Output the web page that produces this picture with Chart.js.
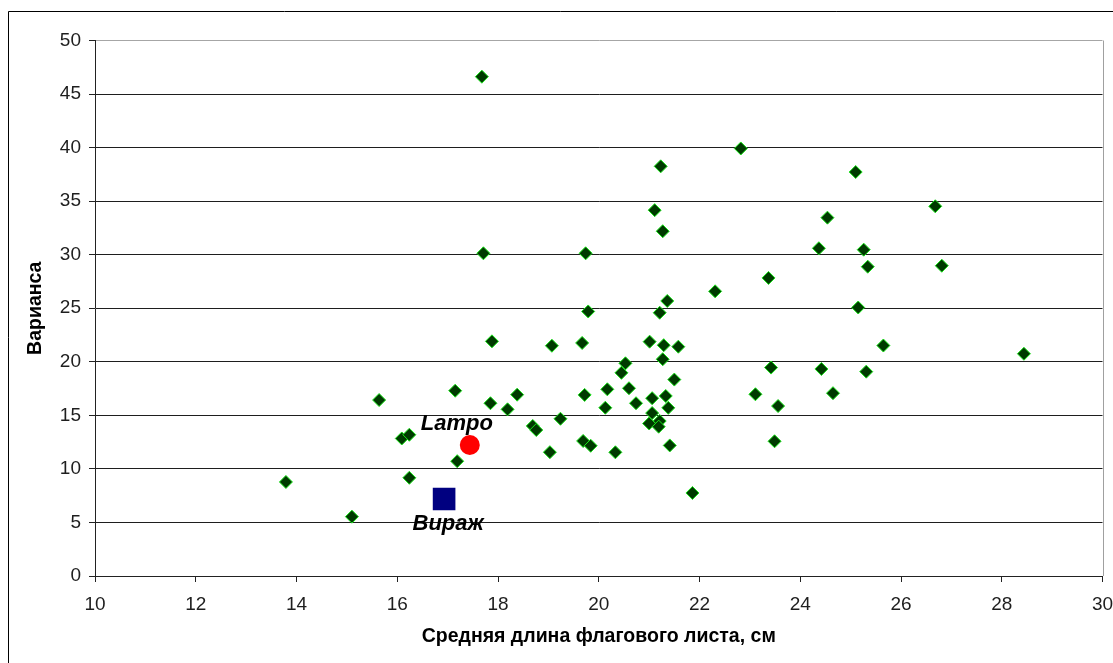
<!DOCTYPE html>
<html>
<head>
<meta charset="utf-8">
<script src="https://cdn.jsdelivr.net/npm/chart.js@4.4.1/dist/chart.umd.min.js"></script>
<style>
  html, body { margin: 0; padding: 0; background: #ffffff; }
  #wrap { width: 1113px; height: 663px; position: relative; }
</style>
</head>
<body>
<div id="wrap"><canvas id="chart" width="1113" height="663"></canvas></div>
<script>
// Mean flag-leaf length (cm) of each sample
const leafLength = [
  13.79, 15.10, 15.64, 16.09, 16.24, 16.24, 17.15, 17.19, 17.68, 17.71,
  17.88, 17.85, 18.19, 18.38, 18.69, 18.76, 19.03, 19.07, 19.24, 19.67,
  19.69, 19.72, 19.74, 19.79, 19.84, 20.13, 20.17, 20.33, 20.45, 20.53,
  20.60, 20.74, 21.01, 21.00, 21.06, 21.06, 21.11, 21.21, 21.19, 21.21,
  21.23, 21.27, 21.27, 21.29, 21.36, 21.33, 21.38, 21.41, 21.50, 21.58,
  21.86, 22.31, 22.82, 23.11, 23.37, 23.42, 23.49, 23.56, 24.37, 24.42,
  24.54, 24.65, 25.10, 25.15, 25.26, 25.31, 25.34, 25.65, 26.68, 26.81,
  28.44
];
// Variance of leaf length for the same samples
const leafVariance = [
  8.78, 5.54, 16.43, 12.84, 13.19, 9.17, 17.30, 10.72, 46.62, 30.13,
  21.91, 16.13, 15.56, 16.93, 14.01, 13.63, 11.56, 21.50, 14.68, 21.76,
  12.61, 16.91, 30.13, 24.70, 12.16, 15.71, 17.43, 11.55, 18.97, 19.86,
  17.53, 16.13, 21.88, 14.24, 16.60, 15.21, 34.16, 14.47, 13.94, 24.58,
  38.25, 32.19, 20.24, 21.55, 25.68, 16.81, 15.70, 12.19, 18.34, 21.41,
  7.75, 26.58, 39.92, 16.97, 27.83, 19.46, 12.58, 15.87, 30.60, 19.33,
  33.46, 17.07, 37.72, 25.07, 30.47, 19.08, 28.88, 21.52, 34.52, 28.97,
  20.75
];
// Named varieties
const lampoName = 'Lampo';
const lampoLength = 17.44;
const lampoVariance = 12.23;
const virazhName = 'Вираж';
const virazhLength = 16.93;
const virazhVariance = 7.19;

// Axis ranges and titles
const xMin = 10, xMax = 30, xStep = 2;
const yMin = 0, yMax = 50, yStep = 5;
const xTitle = 'Средняя длина флагового листа, см';
const yTitle = 'Варианса';

const FONT = '"Liberation Sans", Arial, sans-serif';

const samplePoints = leafLength.map((x, i) => ({ x, y: leafVariance[i] }));

// Outer frame and the light right edge of the plot
const framePlugin = {
  id: 'frame',
  beforeDraw(chart) {
    const ctx = chart.ctx;
    ctx.save();
    ctx.fillStyle = '#ffffff';
    ctx.fillRect(0, 0, chart.width, chart.height);
    ctx.strokeStyle = '#000000';
    ctx.lineWidth = 1;
    ctx.beginPath();
    ctx.moveTo(8.5, chart.height);
    ctx.lineTo(8.5, 11.5);
    ctx.lineTo(chart.width, 11.5);
    ctx.stroke();
    ctx.restore();
  },
  afterDraw(chart) {
    const { ctx, chartArea } = chart;
    ctx.save();
    ctx.strokeStyle = '#a0a0a0';
    ctx.lineWidth = 1;
    const rx = Math.round(chartArea.right) + 0.5;
    ctx.beginPath();
    ctx.moveTo(rx, chartArea.top);
    ctx.lineTo(rx, chartArea.bottom);
    ctx.stroke();
    ctx.restore();
  }
};

// Variety names written next to their markers
const nameLabelPlugin = {
  id: 'nameLabels',
  afterDatasetsDraw(chart) {
    const ctx = chart.ctx;
    const xs = chart.scales.x, ys = chart.scales.y;
    ctx.save();
    ctx.font = 'italic bold 22px ' + FONT;
    ctx.fillStyle = '#000000';
    ctx.textAlign = 'center';
    ctx.textBaseline = 'middle';
    ctx.fillText(lampoName, xs.getPixelForValue(lampoLength) - 13, ys.getPixelForValue(lampoVariance) - 21);
    ctx.fillText(virazhName, xs.getPixelForValue(virazhLength) + 4, ys.getPixelForValue(virazhVariance) + 25);
    ctx.restore();
  }
};

new Chart(document.getElementById('chart'), {
  type: 'scatter',
  data: {
    datasets: [
      {
        label: 'samples',
        data: samplePoints,
        pointStyle: 'rectRot',
        pointRadius: 6.5,
        pointHoverRadius: 6.5,
        backgroundColor: '#003a00',
        borderColor: '#19e619',
        borderWidth: 1
      },
      {
        label: lampoName,
        data: [{ x: lampoLength, y: lampoVariance }],
        pointStyle: 'circle',
        pointRadius: 10,
        pointHoverRadius: 10,
        backgroundColor: '#ff0000',
        borderColor: '#ff0000',
        borderWidth: 0
      },
      {
        label: virazhName,
        data: [{ x: virazhLength, y: virazhVariance }],
        pointStyle: 'rect',
        pointRadius: 16,
        pointHoverRadius: 16,
        backgroundColor: '#000080',
        borderColor: '#000080',
        borderWidth: 0
      }
    ]
  },
  options: {
    responsive: false,
    animation: false,
    devicePixelRatio: 1,
    events: [],
    layout: { autoPadding: false, padding: { top: 40.5, right: 0, bottom: 0, left: 0 } },
    plugins: {
      legend: { display: false },
      tooltip: { enabled: false }
    },
    scales: {
      x: {
        type: 'linear',
        min: xMin,
        max: xMax,
        ticks: {
          stepSize: xStep,
          color: '#1e1e1e',
          font: { family: FONT, size: 19 },
          padding: 11,
          maxRotation: 0
        },
        grid: {
          drawOnChartArea: false,
          drawTicks: true,
          tickLength: 6,
          tickColor: '#222222',
          tickWidth: 1
        },
        border: { display: true, color: '#222222', width: 1 },
        title: {
          display: true,
          text: xTitle,
          color: '#000000',
          font: { family: FONT, size: 19.5, weight: 'bold' },
          padding: { top: 0, bottom: 15 }
        },
        afterFit(scale) {
          scale.height = 87;
          scale.paddingLeft = 0;
          scale.paddingRight = 10.5;
        }
      },
      y: {
        type: 'linear',
        min: yMin,
        max: yMax,
        ticks: {
          stepSize: yStep,
          color: '#1e1e1e',
          font: { family: FONT, size: 19 },
          padding: 8
        },
        grid: {
          drawOnChartArea: true,
          drawTicks: true,
          tickLength: 6,
          color: (c) => (c.tick && c.tick.value === yMax ? '#a6a6a6' : '#1e1e1e'),
          tickColor: '#222222',
          lineWidth: 1
        },
        border: { display: true, color: '#222222', width: 1 },
        title: {
          display: true,
          text: yTitle,
          color: '#000000',
          font: { family: FONT, size: 19.5, weight: 'bold' },
          padding: { top: 24, bottom: 0 }
        },
        afterFit(scale) { scale.width = 95; }
      }
    }
  },
  plugins: [framePlugin, nameLabelPlugin]
});
</script>
</body>
</html>
